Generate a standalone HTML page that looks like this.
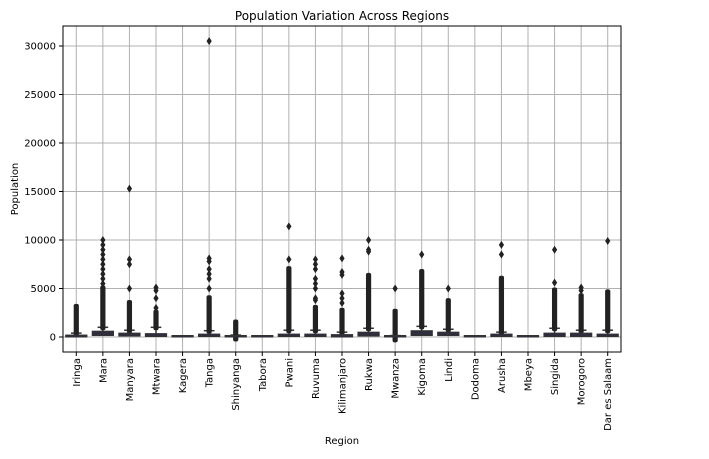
<!DOCTYPE html>
<html><head><meta charset="utf-8">
<style>
body{margin:0;background:#fff;font-family:"Liberation Sans","DejaVu Sans",sans-serif;}
svg text{font-family:"DejaVu Sans","Liberation Sans",sans-serif;}
</style></head>
<body>
<svg id="chart" width="709" height="454" xmlns="http://www.w3.org/2000/svg"></svg>
<script>
const regions=["Iringa","Mara","Manyara","Mtwara","Kagera","Tanga","Shinyanga","Tabora","Pwani","Ruvuma","Kilimanjaro","Rukwa","Mwanza","Kigoma","Lindi","Dodoma","Arusha","Mbeya","Singida","Morogoro","Dar es Salaam"];
const q1=[0,150,100,50,0,50,0,0,50,50,0,100,0,150,150,0,50,0,50,50,50];
const q3=[200,600,400,350,50,300,100,30,300,300,250,500,80,650,500,30,300,30,400,400,300];
const whiskerHigh=[400,1000,700,1000,60,650,200,40,700,700,500,900,150,1100,800,40,500,40,900,700,700];
const denseMin=[400,1000,700,1000,60,650,-150,40,700,700,500,900,-250,1100,800,40,500,40,900,700,700];
const denseMax=[3100,5000,3500,2500,60,4000,1500,40,7000,3000,2700,6300,2600,6700,3700,40,6000,40,4800,4200,4600];
const extraOutliers=[[],[5500,6000,6500,7000,7500,8000,8500,9000,9500,10000],[5000,7500,8000,15300],[3000,4000,4800,5100],[],[5000,6000,6500,7000,7800,8100,30500],[],[],[8000,11400],[3800,4000,5000,5500,6000,7000,7500,8000],[3500,4000,4500,6400,6700,8100],[8800,9000,10000],[5000],[8500],[5000],[],[8500,9500],[],[5600,9000],[4800,5100],[9900]];
const yTicks=[0,5000,10000,15000,20000,25000,30000];

const NS="http://www.w3.org/2000/svg";
const svg=document.getElementById('chart');
const L=63,R=621,T=26,B=352;
const y=v=>337-v*(337-46)/30000;
const step=(R-L)/regions.length;
const x=i=>L+step*(i+0.5);
function el(tag,attrs,parent){const e=document.createElementNS(NS,tag);for(const k in attrs)e.setAttribute(k,attrs[k]);(parent||svg).appendChild(e);return e;}

const grid=el('g',{});


yTicks.forEach(t=>{
  el('line',{x1:L,x2:R,y1:y(t),y2:y(t),stroke:'#b0b0b0','stroke-width':1},grid);
  el('line',{x1:L-4,x2:L,y1:y(t),y2:y(t),stroke:'#000'},grid);
  const tx=el('text',{x:L-7,y:y(t)+3.5,'text-anchor':'end','font-size':10},grid);
  tx.textContent=t;
  
  
});
regions.forEach((r,i)=>{
  el('line',{x1:x(i),x2:x(i),y1:T,y2:B,stroke:'#b0b0b0','stroke-width':1},grid);
  el('line',{x1:x(i),x2:x(i),y1:B,y2:B+4,stroke:'#000'},grid);
  const tx=el('text',{transform:`translate(${x(i)+3.5},${B+6}) rotate(-90)`,'text-anchor':'end','font-size':10},grid);
  tx.textContent=r;
  
  
});

function diamond(cx,cy,g){el('path',{d:`M${cx},${cy-4}L${cx+2.6},${cy}L${cx},${cy+4}L${cx-2.6},${cy}Z`,fill:'#222'},g);}
regions.forEach((r,i)=>{
  const g=el('g',{});
  
  
  const cx=x(i),w=step*0.8;
  el('line',{x1:cx,x2:cx,y1:y(q3[i]),y2:y(whiskerHigh[i]),stroke:'#333','stroke-width':1.5},g);
  el('line',{x1:cx-w/4,x2:cx+w/4,y1:y(whiskerHigh[i]),y2:y(whiskerHigh[i]),stroke:'#333','stroke-width':1.5},g);
  if(denseMax[i]>whiskerHigh[i]||denseMin[i]<q1[i]){
    const a=y(denseMax[i]),b=y(denseMin[i]);
    el('rect',{x:cx-2.6,y:a-3,width:5.2,height:b-a+6,fill:'#222',rx:2},g);
  }
  extraOutliers[i].forEach(v=>diamond(cx,y(v),g));
  const top=y(q3[i]),bot=y(q1[i]);
  const h=Math.max(bot-top,1.5);
  el('rect',{x:cx-w/2,y:bot-h,width:w,height:h,fill:'#2e2e3e',stroke:'#333','stroke-width':1},g);
});

el('rect',{x:L,y:T,width:R-L,height:B-T,fill:'none',stroke:'#000','stroke-width':1});
const title=el('text',{x:(L+R)/2,y:20,'text-anchor':'middle','font-size':12});
title.textContent='Population Variation Across Regions';


const xl=el('text',{x:(L+R)/2,y:444,'text-anchor':'middle','font-size':10});
xl.textContent='Region';


const yl=el('text',{transform:`translate(18,${(T+B)/2}) rotate(-90)`,'text-anchor':'middle','font-size':10});
yl.textContent='Population';


</script>
</body></html>
